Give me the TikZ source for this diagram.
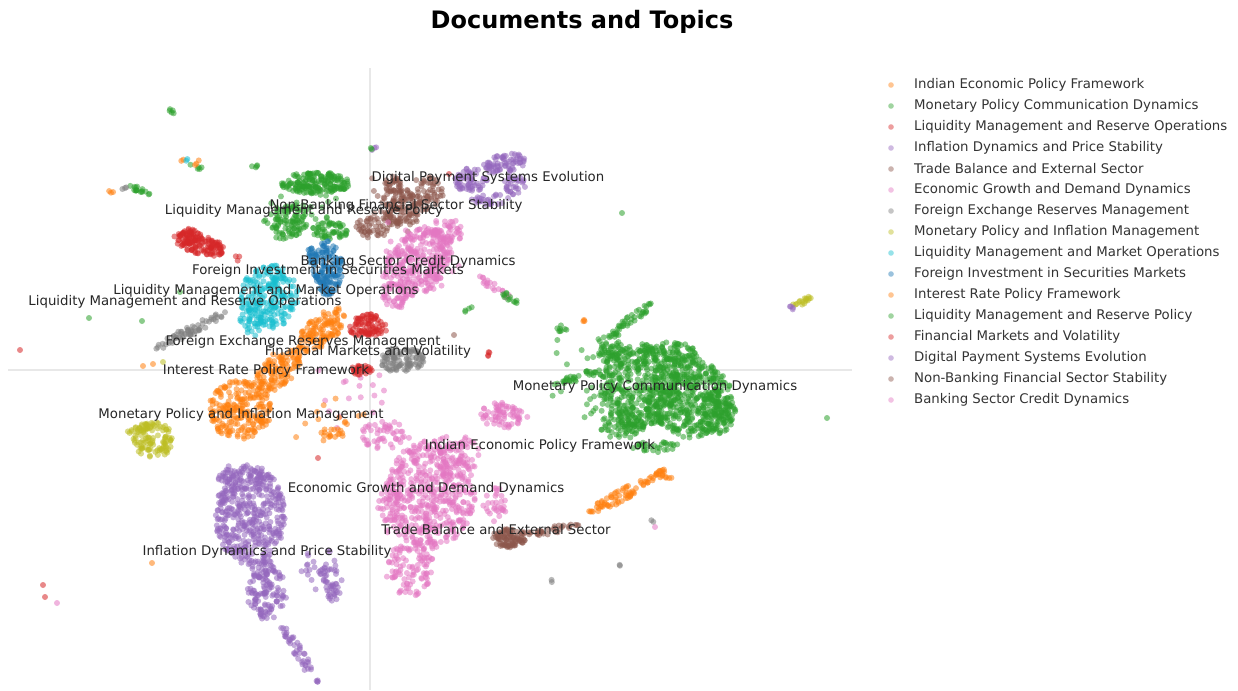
\documentclass[tikz,border=0pt]{standalone}
\usepackage{fontspec}
\setmainfont{DejaVu Sans}
\usetikzlibrary{positioning}
% tableau palette
\definecolor{tblue}{HTML}{1F77B4}
\definecolor{torange}{HTML}{FF7F0E}
\definecolor{tgreen}{HTML}{2CA02C}
\definecolor{tred}{HTML}{D62728}
\definecolor{tpurple}{HTML}{9467BD}
\definecolor{tbrown}{HTML}{8C564B}
\definecolor{tpink}{HTML}{E377C2}
\definecolor{tgray}{HTML}{7F7F7F}
\definecolor{tolive}{HTML}{BCBD22}
\definecolor{tcyan}{HTML}{17BECF}
\definecolor{zeroline}{HTML}{E8E8E8}
\tikzset{
  dot/.style={fill opacity=0.55},
  legdot/.style={fill opacity=0.45},
  lbl/.style={font=\fontsize{13.3}{15}\selectfont,text=black!85,inner sep=0pt},
  legtext/.style={font=\fontsize{13.3}{15}\selectfont,text=black!80,inner sep=0pt,anchor=west}
}
% filled cloud of documents: colour, cx, cy, rx, ry, angle, count
\newcommand{\blob}[7]{%
  \pgfmathsetmacro{\bca}{cos(#6)}%
  \pgfmathsetmacro{\bsa}{sin(#6)}%
  \foreach \k in {1,...,#7}{%
    \pgfmathsetmacro{\br}{sqrt(rnd)}%
    \pgfmathsetmacro{\bt}{360*rnd}%
    \pgfmathsetmacro{\bu}{#4*\br*cos(\bt)}%
    \pgfmathsetmacro{\bv}{#5*\br*sin(\bt)}%
    \fill[#1,dot] ({#2+\bu*\bca-\bv*\bsa},{#3+\bu*\bsa+\bv*\bca}) circle[radius=3pt];
  }%
}
% loose halo round a cloud: same arguments
\newcommand{\haze}[7]{%
  \foreach \k in {1,...,#7}{%
    \pgfmathsetmacro{\bu}{#4*(rand+rand)/2}%
    \pgfmathsetmacro{\bv}{#5*(rand+rand)/2}%
    \fill[#1,dot] ({#2+\bu},{#3+\bv}) circle[radius=3pt];
  }%
}
\newcommand{\onedot}[3]{\fill[#1,dot] (#2,#3) circle[radius=3pt];}

\begin{document}
\begin{tikzpicture}[x=1pt,y=-1pt]
  \useasboundingbox (0,0) rectangle (1238,690);
  \pgfmathsetseed{2718}
  % zero lines
  \draw[zeroline,line width=1.6pt] (370,68) -- (370,690);
  \draw[zeroline,line width=1.6pt] (8,370) -- (852,370);
  % title
  \node[font=\bfseries\fontsize{24}{28}\selectfont,inner sep=0pt] (title) at (582,22) {Documents and Topics};

  % small outlying groups
  \blob{tgreen}{172}{111}{3}{3}{0}{5}
  \blob{tgreen}{196}{166}{6}{3}{20}{5}
  \blob{torange}{190}{162}{10}{4}{0}{5}
  \blob{tcyan}{186}{158}{3}{3}{0}{2}
  \blob{tgreen}{254}{166}{4}{2}{0}{4}
  \blob{tgreen}{138}{189}{13}{3}{25}{16}
  \blob{torange}{111}{191}{3}{2}{0}{3}
  \blob{tgray}{124}{188}{4}{2}{0}{3}
  \blob{tpurple}{374}{149}{3}{3}{0}{3}
  \blob{tgreen}{371}{150}{2}{2}{0}{2}
  \blob{tolive}{802}{302}{12}{3}{-25}{16}
  \blob{tpurple}{791}{307}{3}{3}{0}{4}
  \onedot{tgreen}{622}{213}
  \onedot{tgreen}{827}{418}
  \onedot{tred}{20}{350}
  \onedot{tred}{43}{585}
  \onedot{tred}{45}{597}
  \onedot{tpink}{57}{603}
  \onedot{torange}{143}{366}
  \onedot{torange}{153}{364}
  \onedot{tolive}{163}{362}
  \onedot{tgreen}{89}{318}
  \onedot{tgreen}{142}{321}
  \onedot{tgreen}{180}{292}
  \onedot{torange}{152}{563}
  \onedot{tred}{318}{458}
  \onedot{tred}{449}{174}
  \onedot{tbrown}{454}{335}
  \blob{tred}{489}{354}{4}{2}{0}{4}
  \blob{tgreen}{468}{309}{8}{3}{0}{4}
  \blob{tgray}{652}{522}{2}{2}{0}{2}
  \onedot{tpink}{655}{527}
  \blob{tgray}{619}{566}{2}{2}{0}{2}
  \blob{tgray}{552}{581}{2}{2}{0}{2}
  \blob{tgreen}{562}{328}{5}{4}{0}{8}
  \blob{torange}{583}{321}{3}{3}{0}{3}
  \blob{tred}{238}{258}{3}{4}{0}{3}
  \haze{tpink}{360}{400}{50}{40}{0}{20}
  \haze{torange}{330}{420}{40}{30}{0}{15}

  % Monetary Policy Communication Dynamics
  \haze{tgreen}{600}{390}{60}{60}{0}{40}
  \blob{tgreen}{640}{385}{42}{42}{0}{420}
  \blob{tgreen}{690}{398}{42}{40}{0}{420}
  \blob{tgreen}{718}{412}{18}{22}{0}{100}
  \blob{tgreen}{622}{425}{22}{14}{0}{70}
  \blob{tgreen}{668}{352}{32}{10}{0}{80}
  \blob{tgreen}{612}{352}{14}{12}{0}{40}
  \blob{tgreen}{630}{321}{30}{5}{-39}{45}
  \blob{tgreen}{577}{378}{25}{4}{-18}{30}
  \blob{tgreen}{655}{447}{25}{6}{0}{30}

  % Liquidity Management and Reserve Policy
  \haze{tgreen}{310}{210}{50}{35}{0}{40}
  \blob{tgreen}{315}{183}{35}{11}{0}{180}
  \blob{tgreen}{285}{222}{22}{17}{0}{90}
  \blob{tgreen}{330}{230}{20}{9}{0}{50}

  % Non-Banking Financial Sector Stability
  \haze{tbrown}{400}{205}{45}{35}{0}{30}
  \blob{tbrown}{400}{208}{20}{20}{0}{110}
  \blob{tbrown}{393}{185}{8}{10}{0}{25}
  \blob{tbrown}{430}{195}{14}{18}{0}{50}
  \blob{tbrown}{372}{228}{18}{10}{0}{40}

  % Digital Payment Systems Evolution
  \blob{tpurple}{470}{180}{17}{12}{0}{60}
  \blob{tpurple}{505}{163}{22}{10}{-10}{70}
  \blob{tpurple}{515}{185}{12}{10}{0}{30}
  \blob{tpurple}{490}{200}{20}{6}{0}{25}

  % Banking Sector Credit Dynamics
  \haze{tpink}{420}{260}{50}{50}{0}{40}
  \blob{tpink}{418}{262}{40}{28}{-50}{280}
  \blob{tpink}{445}{232}{18}{14}{0}{50}
  \blob{tpink}{395}{295}{14}{14}{0}{40}
  \blob{tpink}{494}{287}{20}{4}{35}{20}
  \blob{tgreen}{510}{298}{10}{3}{35}{12}

  % Foreign Investment in Securities Markets
  \blob{tblue}{328}{268}{15}{27}{0}{140}
  \blob{tblue}{313}{255}{7}{10}{0}{20}

  % Liquidity Management and Market Operations
  \blob{tcyan}{270}{297}{30}{32}{20}{220}
  \blob{tcyan}{252}{322}{12}{14}{0}{30}

  % Liquidity Management and Reserve Operations
  \blob{tred}{200}{244}{27}{10}{15}{130}
  \blob{tred}{190}{236}{7}{8}{0}{30}

  % Foreign Exchange Reserves Management
  \blob{tgray}{192}{330}{42}{5}{-27}{60}
  \blob{tgray}{402}{360}{22}{13}{0}{100}

  % Interest Rate Policy Framework
  \blob{torange}{240}{410}{32}{30}{0}{220}
  \blob{torange}{278}{370}{28}{16}{-40}{120}
  \blob{torange}{322}{330}{30}{14}{-40}{120}
  \blob{torange}{333}{433}{12}{5}{0}{15}

  % Financial Markets and Volatility
  \blob{tred}{368}{326}{20}{12}{0}{90}
  \blob{tred}{360}{370}{12}{5}{0}{30}

  % Monetary Policy and Inflation Management
  \blob{tolive}{153}{440}{20}{18}{0}{100}
  \blob{tolive}{141}{428}{15}{4}{-15}{20}

  % Inflation Dynamics and Price Stability
  \blob{tpurple}{250}{515}{35}{50}{0}{400}
  \blob{tpurple}{240}{478}{25}{14}{0}{60}
  \blob{tpurple}{262}{568}{12}{10}{0}{30}
  \blob{tpurple}{267}{593}{20}{27}{0}{110}
  \blob{tpurple}{300}{655}{35}{5}{58}{45}
  \haze{tpurple}{320}{565}{25}{25}{0}{40}
  \blob{tpurple}{333}{590}{7}{11}{0}{25}

  % Economic Growth and Demand Dynamics
  \blob{tpink}{430}{495}{45}{55}{0}{480}
  \blob{tpink}{410}{570}{25}{28}{0}{100}
  \blob{tpink}{505}{415}{25}{13}{0}{70}
  \blob{tpink}{455}{455}{25}{20}{0}{60}
  \blob{tpink}{385}{435}{25}{14}{0}{50}
  \blob{tpink}{392}{510}{14}{25}{0}{40}
  \blob{tpink}{495}{505}{12}{18}{0}{30}

  % Trade Balance and External Sector
  \blob{tbrown}{510}{538}{18}{10}{0}{90}
  \blob{tbrown}{555}{530}{30}{4}{-8}{30}

  % orange streak
  \blob{torange}{628}{492}{45}{6}{-28}{70}
  \blob{torange}{665}{475}{8}{6}{0}{15}

  % topic labels
  \node[lbl] (lDigital) at (488,178) {Digital Payment Systems Evolution};
  \node[lbl] (lNonBank) at (396,206) {Non-Banking Financial Sector Stability};
  \node[lbl] (lLiqPolicy) at (304,211) {Liquidity Management and Reserve Policy};
  \node[lbl] (lBanking) at (408,262) {Banking Sector Credit Dynamics};
  \node[lbl] (lForInv) at (328,271) {Foreign Investment in Securities Markets};
  \node[lbl] (lLiqMarket) at (266,291) {Liquidity Management and Market Operations};
  \node[lbl] (lLiqOps) at (185,302) {Liquidity Management and Reserve Operations};
  \node[lbl] (lForex) at (303,342) {Foreign Exchange Reserves Management};
  \node[lbl] (lFinMkt) at (368,352) {Financial Markets and Volatility};
  \node[lbl] (lRate) at (266,371) {Interest Rate Policy Framework};
  \node[lbl] (lMonComm) at (655,387) {Monetary Policy Communication Dynamics};
  \node[lbl] (lMonInfl) at (241,415) {Monetary Policy and Inflation Management};
  \node[lbl] (lIndian) at (540,446) {Indian Economic Policy Framework};
  \node[lbl] (lGrowth) at (426,489) {Economic Growth and Demand Dynamics};
  \node[lbl] (lTrade) at (496,530) {Trade Balance and External Sector};
  \node[lbl] (lInfl) at (267,552) {Inflation Dynamics and Price Stability};

  % legend
  \foreach \c/\t [count=\i] in {torange/Indian Economic Policy Framework,
      tgreen/Monetary Policy Communication Dynamics,
      tred/Liquidity Management and Reserve Operations,
      tpurple/Inflation Dynamics and Price Stability,
      tbrown/Trade Balance and External Sector,
      tpink/Economic Growth and Demand Dynamics,
      tgray/Foreign Exchange Reserves Management,
      tolive/Monetary Policy and Inflation Management,
      tcyan/Liquidity Management and Market Operations,
      tblue/Foreign Investment in Securities Markets,
      torange/Interest Rate Policy Framework,
      tgreen/Liquidity Management and Reserve Policy,
      tred/Financial Markets and Volatility,
      tpurple/Digital Payment Systems Evolution,
      tbrown/Non-Banking Financial Sector Stability,
      tpink/Banking Sector Credit Dynamics}{
    \fill[\c,legdot] (891,{64+21*\i}) circle[radius=2.8pt];
    \node[legtext] (leg\i) at (914,{64+21*\i}) {\t};
  }
\end{tikzpicture}
\end{document}
